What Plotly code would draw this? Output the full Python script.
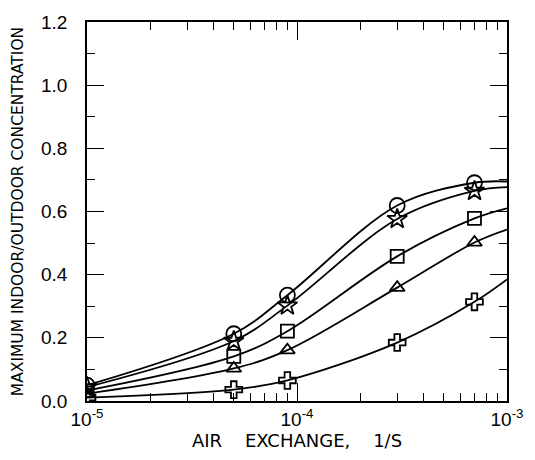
import plotly.graph_objects as go

# Data
x_line = [1e-5, 5e-5, 9e-5, 3e-4, 7e-4, 1e-3]
x_pts = [1e-5, 5e-5, 9e-5, 3e-4, 7e-4]

circle_y = [0.050, 0.213, 0.335, 0.619, 0.691, 0.695]
star_y = [0.044, 0.190, 0.302, 0.576, 0.665, 0.677]
square_y = [0.033, 0.141, 0.221, 0.458, 0.578, 0.610]
triangle_y = [0.023, 0.103, 0.161, 0.359, 0.502, 0.543]
plus_y = [0.011, 0.036, 0.065, 0.185, 0.314, 0.385]

series = [
    ("circle", circle_y, "circle-open", 15),
    ("star", star_y, "star-open", 15),
    ("square", square_y, "square-open", 13),
    ("triangle", triangle_y, "triangle-up-open", 13),
    ("plus", plus_y, "cross-open", 14),
]

x_ticks = [1e-5, 1e-4, 1e-3]
x_ticktext = ["10<sup>-5</sup>", "10<sup>-4</sup>", "10<sup>-3</sup>"]
x_minor = [k * 10 ** e for e in (-5, -4) for k in range(2, 10)]
y_ticks = [0.0, 0.2, 0.4, 0.6, 0.8, 1.0, 1.2]
y_ticktext = ["0.0", "0.2", "0.4", "0.6", "0.8", "1.0", "1.2"]

fig = go.Figure()
for name, ys, sym, sz in series:
    fig.add_trace(go.Scatter(
        x=x_line, y=ys, mode="lines", line=dict(color="black", width=1.8, shape="spline", smoothing=1.0),
        showlegend=False, hoverinfo="skip"))
    fig.add_trace(go.Scatter(
        x=x_pts, y=ys[:len(x_pts)], mode="markers",
        marker=dict(symbol=sym, size=sz, color="black", line=dict(color="black", width=1.8)),
        showlegend=False, cliponaxis=True))

# empty trace so the mirrored (top/right) tick axes are drawn
fig.add_trace(go.Scatter(x=[], y=[], xaxis="x2", yaxis="y2", showlegend=False, hoverinfo="skip"))

font_family = "Liberation Sans, Arial, sans-serif"
title_family = "DejaVu Sans, Liberation Sans, sans-serif"
fig.update_layout(
    width=535, height=460,
    margin=dict(l=87, r=27, t=14, b=55),
    paper_bgcolor="white", plot_bgcolor="white",
    font=dict(family=font_family, color="black"),
)

xtick_common = dict(
    type="log", range=[-5, -3],
    tickmode="array", tickvals=x_ticks,
    ticks="inside", ticklen=18, tickwidth=1.3, tickcolor="black",
    minor=dict(tickmode="array", tickvals=x_minor, ticks="inside", ticklen=8, tickwidth=1.2, tickcolor="black"),
    showline=True, linecolor="black", linewidth=1.5,
    showgrid=False, zeroline=False,
)
ytick_common = dict(
    range=[0, 1.2],
    tickmode="array", tickvals=y_ticks,
    ticks="inside", ticklen=17, tickwidth=1.3, tickcolor="black",
    minor=dict(dtick=0.1, ticks="inside", ticklen=8, tickwidth=1.2, tickcolor="black"),
    showline=True, linecolor="black", linewidth=1.5,
    showgrid=False, zeroline=False,
)

fig.update_layout(
    xaxis=dict(
        **xtick_common,
        ticktext=x_ticktext, tickfont=dict(size=19),
        title=dict(text="AIR\u00a0\u00a0\u00a0\u00a0EXCHANGE,\u00a0\u00a0\u00a0\u00a01/S",
                   font=dict(size=18, family=title_family), standoff=6),
    ),
    yaxis=dict(
        **ytick_common,
        ticktext=y_ticktext, tickfont=dict(size=19),
        ticklabelstandoff=14,
        title=dict(text="MAXIMUM INDOOR/OUTDOOR CONCENTRATION",
                   font=dict(size=15.5, family=title_family), standoff=14),
    ),
    xaxis2=dict(**xtick_common, overlaying="x", side="top", anchor="y2", showticklabels=False),
    yaxis2=dict(**ytick_common, overlaying="y", side="right", anchor="x2", showticklabels=False),
)

fig.write_html("out.html")
